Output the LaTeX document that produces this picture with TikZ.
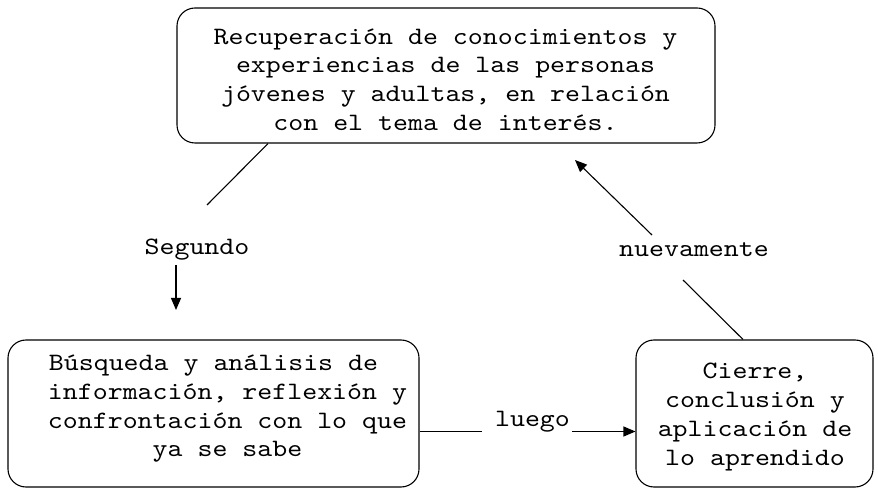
\documentclass[tikz,border=0pt]{standalone}
\usepackage{fontspec}
\newfontfamily\cour{lmmono10-regular.otf}[FakeStretch=1.14]
\usetikzlibrary{arrows.meta}
\begin{document}
\begin{tikzpicture}[x=1pt,y=1pt,
  box/.style={draw, line width=1.1pt, rounded corners=18pt, inner sep=0pt},
  txt/.style={align=center, inner sep=0pt, font=\cour\fontsize{25}{28.7}\selectfont},
  lbl/.style={inner sep=0pt, font=\cour\fontsize{25}{28.7}\selectfont},
  con/.style={line width=1.1pt},
  arr/.style={line width=1.1pt, -{Triangle[length=12pt,width=10pt]}}]
\useasboundingbox (0,0) rectangle (878,490);
% boxes
\node[box, minimum width=538pt, minimum height=135pt] (top) at (446,414.5) {};
\node[box, minimum width=411pt, minimum height=147pt] (lbox) at (213.5,76.5) {};
\node[box, minimum width=237pt, minimum height=147pt] (rbox) at (754.5,76.5) {};
% texts
\node[txt] (toptxt) at (445.5,410.5) {Recuperación de conocimientos y\\experiencias de las personas\\jóvenes y adultas, en relación\\con el tema de interés.};
\node[txt] (ltxt) at (227.5,81) {Búsqueda y análisis de\hspace*{28pt}\\información, reflexión y\\confrontación con lo que\\ya se sabe};
\node[txt] (rtxt) at (755,73) {Cierre,\\conclusión y\\aplicación de\\lo aprendido};
% labels
\node[lbl] (seg) at (197,240) {Segundo};
\node[lbl] (lue) at (532.5,68.5) {luego};
\node[lbl] (nue) at (694,240) {nuevamente};
% coordinates
\coordinate (s1) at (268,346);
\coordinate (s2) at (207,285);
\coordinate (s3) at (176,225);
\coordinate (s4) at (176,180);
\coordinate (lA) at (482,58.5);
\coordinate (lB) at (572,58.5);
\coordinate (n1) at (743,150);
\coordinate (n2) at (683,210);
\coordinate (n3) at (652,255);
\coordinate (n4) at (575,330);
% connectors
\draw[con] (top.south -| s1) -- (s2);
\draw[arr] (s3) -- (s4);
\draw[con] (lbox.east |- lA) -- (lA);
\draw[arr] (lB) -- (rbox.west |- lB);
\draw[con] (rbox.north -| n1) -- (n2);
\draw[arr] (n3) -- (n4);
\end{tikzpicture}
\end{document}
